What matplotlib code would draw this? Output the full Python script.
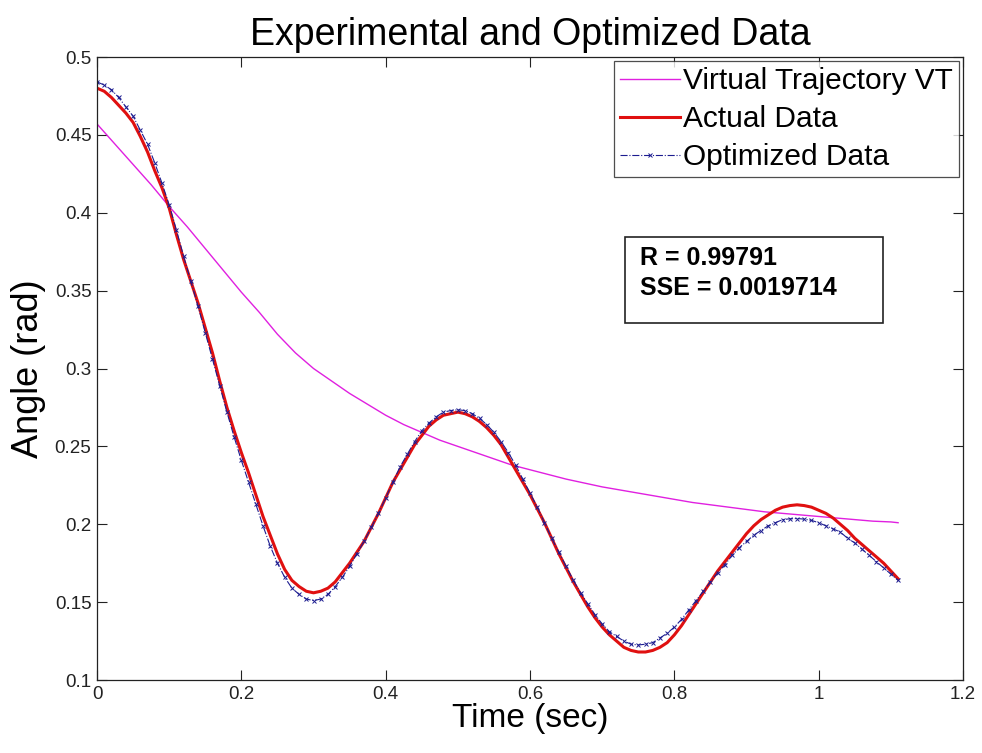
import numpy as np
import matplotlib
matplotlib.use("Agg")
from matplotlib import pyplot as plt
from matplotlib.patches import Rectangle

plt.rcParams['font.family'] = ['Liberation Sans', 'DejaVu Sans']

# Measured angle (actual data) and optimized model, sampled every 0.01 s
time_fine = np.round(np.arange(0, 1.115, 0.01), 2)

actual_data = [
    0.480, 0.478, 0.474, 0.469, 0.464, 0.458, 0.449, 0.439, 0.427, 0.416,
    0.403, 0.386, 0.370, 0.356, 0.342, 0.326, 0.310, 0.292, 0.275, 0.260,
    0.246, 0.233, 0.219, 0.205, 0.193, 0.181, 0.171, 0.164, 0.160, 0.157,
    0.156, 0.157, 0.159, 0.163, 0.169, 0.175, 0.182, 0.189, 0.198, 0.207,
    0.217, 0.227, 0.235, 0.243, 0.251, 0.257, 0.263, 0.267, 0.270, 0.271,
    0.272, 0.271, 0.269, 0.266, 0.262, 0.257, 0.251, 0.243, 0.235, 0.227,
    0.219, 0.210, 0.201, 0.191, 0.181, 0.172, 0.163, 0.155, 0.147, 0.140,
    0.134, 0.129, 0.125, 0.121, 0.119, 0.118, 0.118, 0.119, 0.121, 0.124,
    0.129, 0.135, 0.142, 0.149, 0.156, 0.163, 0.170, 0.176, 0.182, 0.188,
    0.194, 0.199, 0.203, 0.206, 0.209, 0.211, 0.212, 0.2125, 0.212, 0.211,
    0.209, 0.207, 0.204, 0.200, 0.196, 0.191, 0.187, 0.183, 0.179, 0.175,
    0.170, 0.165,
]

optimized_data = [
    0.484, 0.482, 0.479, 0.474, 0.468, 0.462, 0.453, 0.444, 0.432, 0.419,
    0.405, 0.389, 0.372, 0.356, 0.340, 0.323, 0.306, 0.289, 0.272, 0.256,
    0.241, 0.227, 0.213, 0.199, 0.186, 0.175, 0.166, 0.159, 0.155, 0.152,
    0.151, 0.152, 0.155, 0.160, 0.166, 0.173, 0.181, 0.189, 0.198, 0.207,
    0.217, 0.227, 0.237, 0.245, 0.253, 0.260, 0.265, 0.269, 0.272, 0.273,
    0.2735, 0.273, 0.271, 0.268, 0.264, 0.259, 0.253, 0.246, 0.238, 0.229,
    0.220, 0.211, 0.201, 0.191, 0.182, 0.173, 0.164, 0.156, 0.149, 0.142,
    0.136, 0.131, 0.128, 0.125, 0.123, 0.1225, 0.123, 0.124, 0.127, 0.130,
    0.134, 0.139, 0.145, 0.151, 0.157, 0.163, 0.169, 0.174, 0.180, 0.185,
    0.189, 0.193, 0.196, 0.199, 0.201, 0.203, 0.2035, 0.2037, 0.2033, 0.2025,
    0.201, 0.199, 0.197, 0.195, 0.191, 0.188, 0.184, 0.180, 0.176, 0.172,
    0.168, 0.164,
]

# Virtual trajectory
time_vt = [0.000, 0.025, 0.050, 0.075, 0.100, 0.125, 0.150, 0.175, 0.200, 0.225,
           0.250, 0.275, 0.300, 0.325, 0.350, 0.375, 0.400, 0.425, 0.450, 0.475,
           0.500, 0.525, 0.550, 0.575, 0.600, 0.625, 0.650, 0.675, 0.700, 0.725,
           0.750, 0.775, 0.800, 0.825, 0.850, 0.875, 0.900, 0.925, 0.950, 0.975,
           1.000, 1.025, 1.050, 1.075, 1.100, 1.110]
virtual_traj = [0.457, 0.444, 0.431, 0.418, 0.404, 0.391, 0.377, 0.363, 0.349, 0.336,
                0.322, 0.310, 0.300, 0.292, 0.284, 0.277, 0.270, 0.264, 0.259, 0.254,
                0.250, 0.246, 0.242, 0.238, 0.235, 0.232, 0.229, 0.2265, 0.224, 0.222,
                0.220, 0.218, 0.216, 0.214, 0.2125, 0.211, 0.2095, 0.208, 0.207, 0.206,
                0.205, 0.204, 0.203, 0.202, 0.2015, 0.201]

r_value = 0.99791
sse_value = 0.0019714

fig = plt.figure(figsize=(9.82, 7.53), dpi=100)
ax = fig.add_axes([0.0988, 0.0969, 0.8819, 0.8274])

ax.plot(time_vt, virtual_traj, color='#e020e0', linewidth=1.0, label='Virtual Trajectory VT')
ax.plot(time_fine, actual_data, color='#e01010', linewidth=2.2, label='Actual Data')
ax.plot(time_fine, optimized_data, color='#1c1c90', linestyle='-.', linewidth=0.8,
        marker='x', markersize=3, markeredgewidth=0.7, label='Optimized Data')

ax.set_xlim(0, 1.2)
ax.set_ylim(0.1, 0.5)
ax.set_xticks(np.arange(0, 1.21, 0.2))
ax.set_xticklabels(['0', '0.2', '0.4', '0.6', '0.8', '1', '1.2'])
ax.set_yticks(np.arange(0.1, 0.501, 0.05))
ax.set_yticklabels(['0.1', '0.15', '0.2', '0.25', '0.3', '0.35', '0.4', '0.45', '0.5'])
ax.tick_params(direction='in', top=True, right=True, length=7, width=0.8,
               labelsize=13.5, colors='#222222', pad=4)
for spine in ax.spines.values():
    spine.set_linewidth(0.9)
    spine.set_color('#222222')

ax.set_title('Experimental and Optimized Data', fontsize=27, pad=9)
ax.set_xlabel('Time (sec)', fontsize=24, labelpad=0)
ax.set_ylabel('Angle (rad)', fontsize=26, labelpad=6)

leg = ax.legend(loc='upper right', fontsize=21.5, frameon=True, fancybox=False,
                borderpad=0.2, labelspacing=0.33, handlelength=2.0, handletextpad=0.1,
                borderaxespad=0.15, edgecolor='#222222')
leg.get_frame().set_linewidth(0.9)

# Statistics box
ax.add_patch(Rectangle((0.6097, 0.573), 0.298, 0.138, transform=ax.transAxes,
                       facecolor='white', edgecolor='#222222', linewidth=1.2, zorder=5))
ax.text(0.627, 0.697, 'R = %.5f\nSSE = %.7f' % (r_value, sse_value),
        transform=ax.transAxes, fontsize=18, fontweight='bold', va='top', ha='left',
        linespacing=1.35, zorder=6)

fig.savefig('out.png', dpi=100)
